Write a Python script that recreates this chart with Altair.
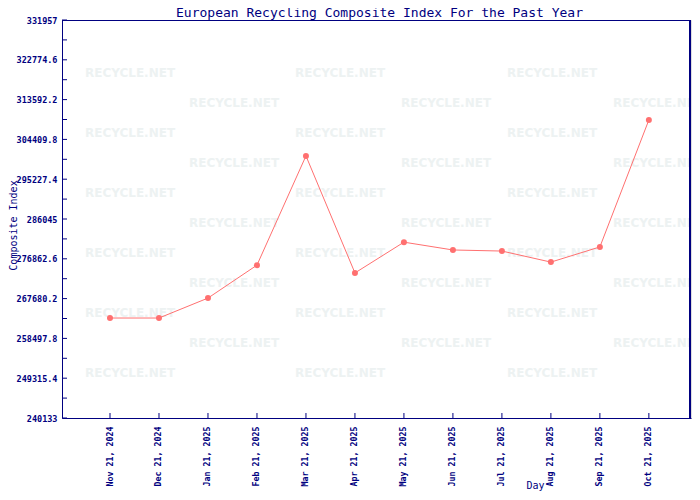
import altair as alt
import pandas as pd

# ---- data ----
chart_title = "European Recycling Composite Index For the Past Year"
days = ["Nov 21, 2024", "Dec 21, 2024", "Jan 21, 2025", "Feb 21, 2025", "Mar 21, 2025",
        "Apr 21, 2025", "May 21, 2025", "Jun 21, 2025", "Jul 21, 2025", "Aug 21, 2025",
        "Sep 21, 2025", "Oct 21, 2025"]
values = [263200, 263200, 267800, 275400, 300600, 273600, 280700, 278900, 278650,
          276100, 279600, 308900]
y_min = 240133
y_max = 331957
y_major = [240133, 249315.4, 258497.8, 267680.2, 276862.6, 286045, 295227.4,
           304409.8, 313592.2, 322774.6, 331957]

navy = "#000080"
mono = "DejaVu Sans Mono"
W, H = 629, 398

idx = list(range(len(days)))
df = pd.DataFrame({"i": idx, "day": days, "value": values})
y_ticks = y_major + [(a + b) / 2 for a, b in zip(y_major[:-1], y_major[1:])]
ytick_df = pd.DataFrame({"i": [0] * len(y_ticks), "value": y_ticks})

# label lookup for the index axis
label_expr = "[" + ",".join("'%s'" % d for d in days) + "][datum.value]"

# watermark grid (decorative)
wm_rows = []
for r in range(11):
    yy = 53 + 30 * r
    xs = [68, 278, 490] if r % 2 == 0 else [172, 384, 596]
    for xx in xs:
        wm_rows.append({"px": xx, "py": yy, "t": "RECYCLE.NET"})
wm_df = pd.DataFrame(wm_rows)

xscale = alt.Scale(domain=[-0.98, 11.86], nice=False, zero=False)
yscale = alt.Scale(domain=[y_min, y_max], nice=False, zero=False)

x_axis = alt.Axis(title="Day", values=idx, labelExpr=label_expr,
                  labelAngle=270, labelAlign="right", labelOverlap=False,
                  labelBaseline="middle", labelFont=mono, labelFontSize=8.3,
                  labelFontWeight="bold", labelColor=navy, labelPadding=8,
                  ticks=False, grid=False, domainColor=navy, titleFont=mono,
                  titleFontSize=10, titleFontWeight="normal", titleColor=navy,
                  titleX=473, titleY=72, titleAlign="center", titleBaseline="bottom")
y_axis = alt.Axis(title="Composite Index", values=y_major, format=".1~f",
                  labelOverlap=False, labelFont=mono, labelFontSize=8.5,
                  labelFontWeight="bold", labelColor=navy, labelPadding=5,
                  ticks=False, grid=False, domainColor=navy, titleFont=mono,
                  titleFontSize=10, titleFontWeight="normal", titleColor=navy,
                  titleX=-49, titleY=H / 2 + 6, titleAlign="center",
                  titleBaseline="middle")

X = alt.X("i:Q", scale=xscale, axis=x_axis)
Y = alt.Y("value:Q", scale=yscale, axis=y_axis)

watermark = alt.Chart(wm_df).mark_text(
    font="DejaVu Sans", fontWeight="bold", fontSize=12, color="#edf2f2", clip=True
).encode(
    x=alt.X("px:Q", scale=None), y=alt.Y("py:Q", scale=None), text="t:N"
)

title_mark = alt.Chart(pd.DataFrame({"t": [chart_title]})).mark_text(
    font=mono, fontSize=13, color=navy, align="center", baseline="alphabetic"
).encode(x=alt.value(317.5), y=alt.value(-3), text="t:N")

# crisp top and right frame lines
top_border = alt.Chart(pd.DataFrame({"k": [0]})).mark_rule(
    color=navy, strokeWidth=1).encode(
    x=alt.value(0), x2=alt.value(W), y=alt.value(0.5))
right_border = alt.Chart(pd.DataFrame({"k": [0]})).mark_rule(
    color=navy, strokeWidth=2).encode(
    x=alt.value(W - 1), y=alt.value(0), y2=alt.value(H))

line = alt.Chart(df).mark_line(color="#ff7070", strokeWidth=1).encode(x=X, y=Y)

points = alt.Chart(df).mark_point(filled=True, shape="circle", size=36,
                                  color="#ff7070", opacity=1).encode(x=X, y=Y)

yticks = alt.Chart(ytick_df).mark_rule(color=navy, strokeWidth=1).encode(
    y=Y, x=alt.value(0), x2=alt.value(5)
)
xticks = alt.Chart(df).mark_rule(color=navy, strokeWidth=1).encode(
    x=X, y=alt.value(H), y2=alt.value(H - 5)
)

chart = alt.layer(watermark, line, points, yticks, xticks, top_border,
                  right_border, title_mark).properties(
    width=W, height=H,
    autosize=alt.AutoSizeParams(type="none"),
    padding={"left": 54, "top": 12, "right": 1, "bottom": 74},
).configure_view(strokeWidth=0).configure(background="white")

chart.save("out.html", embed_options={"renderer": "svg", "actions": False})
